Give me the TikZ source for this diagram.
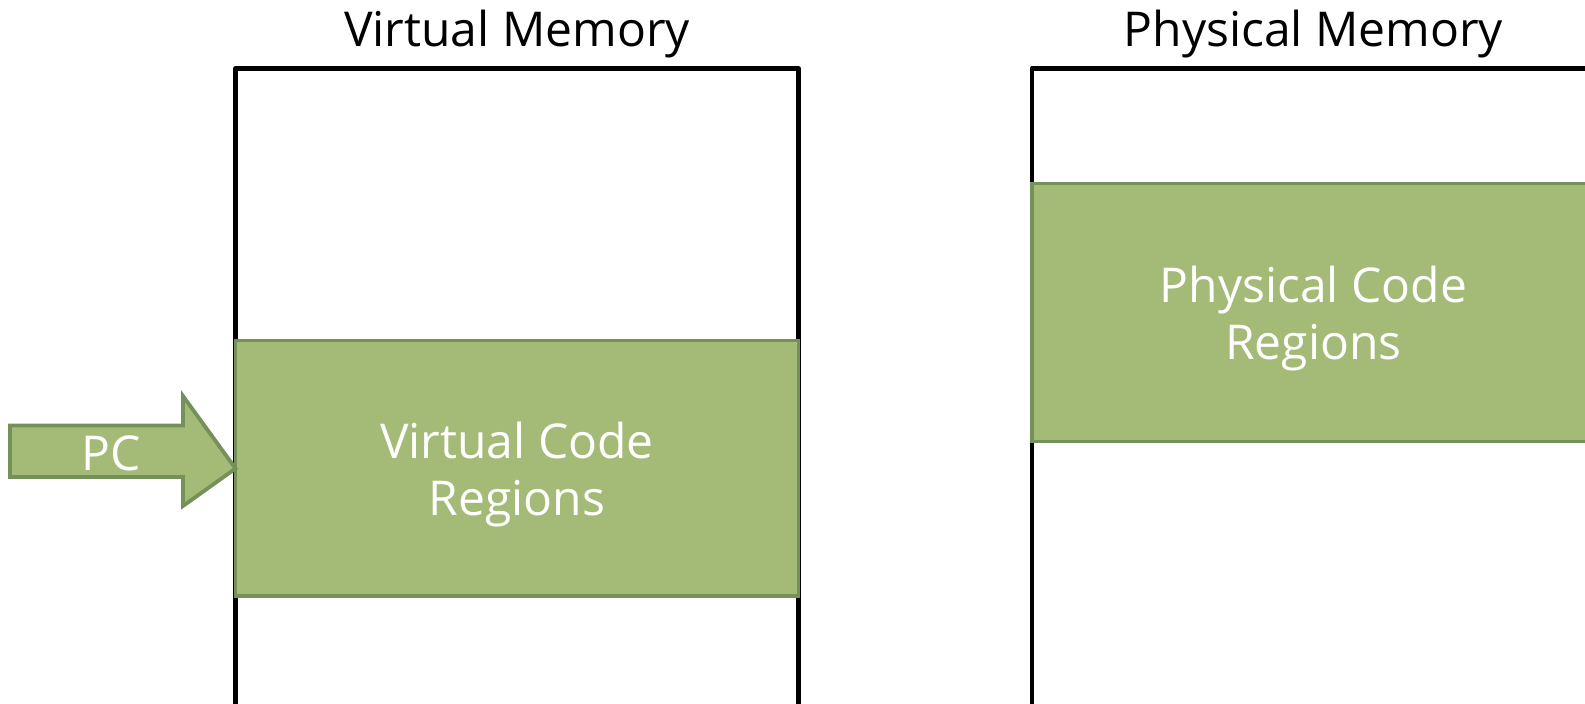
\documentclass[tikz,border=0pt]{standalone}
\usepackage{fontspec}
\setmainfont{Open Sans}
\definecolor{regfill}{HTML}{A3BB77}
\definecolor{regedge}{HTML}{76905A}
\begin{document}
\begin{tikzpicture}[x=0.5pt,y=-0.5pt,
  membox/.style={draw=black,line width=2.4pt,line join=round,inner sep=0pt,outer sep=0pt,minimum width=281.5pt,minimum height=350pt},
  region/.style={fill=regfill,draw=regedge,line width=1.9pt,inner sep=0pt,outer sep=0pt,minimum width=281.5pt},
  regtext/.style={text=white,font=\fontsize{24}{28.5}\selectfont,align=center},
  title/.style={font=\fontsize{24}{29}\selectfont,anchor=base},
  pcarrow/.style={fill=regfill,draw=regedge,line width=1.9pt,line join=miter}]
\useasboundingbox (0,0) rectangle (1585,704);
\clip (0,0) rectangle (1585,704);
% memory outlines (extend beyond the bottom edge)
\node[membox] (vmem) at (517,68.5) [anchor=north] {};
\node[membox] (pmem) at (1313.5,68.5) [anchor=north] {};
% titles
\node[title] (vtitle) at (517,47) {Virtual Memory};
\node[title] (ptitle) at (1313.5,47) {Physical Memory};
% code regions
\node[region,minimum height=127.9pt] (vcode) at (517,468.5) {};
\node[regtext] (vcodetext) at ([yshift=-3pt]vcode.center) {Virtual Code\\Regions};
\node[region,minimum height=129pt] (pcode) at (1313.5,312.5) {};
\node[regtext] (pcodetext) at ([yshift=-3pt]pcode.center) {Physical Code\\Regions};
% PC arrow
\coordinate (tip) at (vcode.west);
\path[pcarrow] (10,425.5) -- (183,425.5) -- (183,396) -- (tip) -- (183,506) -- (183,477) -- (10,477) -- cycle;
\node[text=white,font=\fontsize{24}{29}\selectfont] (pc) at (111,453) {PC};
\end{tikzpicture}
\end{document}
